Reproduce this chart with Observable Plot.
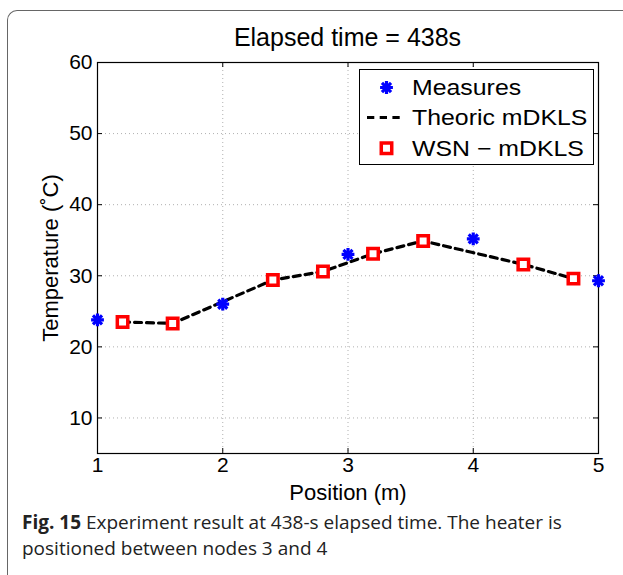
<!DOCTYPE html>
<html>
<head>
<meta charset="utf-8">
<script src="https://cdn.jsdelivr.net/npm/d3@7"></script>
<script src="https://cdn.jsdelivr.net/npm/@observablehq/plot@0.6"></script>
<style>
  html, body { margin: 0; padding: 0; background: white; }
  #wrap { position: relative; width: 623px; height: 575px; overflow: hidden; background: white; }
  #frame { position: absolute; left: 7px; top: 10px; width: 700px; height: 700px;
           border-left: 1.5px solid #666; border-top: 1.5px solid #666; border-top-left-radius: 10px; }
  #title { position: absolute; left: 97px; width: 501px; top: 22px; text-align: center;
           font-family: "Liberation Sans", Arial, sans-serif; font-size: 25px; line-height: 30px; color: #000; }
  #chart { position: absolute; left: 0; top: 0; }
  #caption { position: absolute; left: 22px; top: 509px; width: 590px;
             font-family: "Open Sans", Lato, sans-serif; font-size: 19px; line-height: 26px; color: #222; }
  #caption b { font-weight: bold; }
</style>
</head>
<body>
<div id="wrap">
  <div id="frame"></div>
  <div id="chart"></div>
  <div id="title">Elapsed time = 438s</div>
  <div id="caption"><b>Fig. 15</b> Experiment result at 438-s elapsed time. The heater is<br>positioned between nodes 3 and 4</div>
</div>
<script>
// ---- data ----
const xTicks = [1, 2, 3, 4, 5];
const yTicks = [10, 20, 30, 40, 50, 60];
const measurePos = [1, 2, 3, 4, 5];
const measureTemp = [23.8, 26.0, 33.0, 35.2, 29.3];
const theoryPos = [1.2, 1.6, 2.4, 2.8, 3.2, 3.6, 4.4, 4.8];
const theoryTemp = [23.5, 23.3, 29.4, 30.6, 33.1, 34.9, 31.6, 29.6];
const wsnPos = [1.2, 1.6, 2.4, 2.8, 3.2, 3.6, 4.4, 4.8];
const wsnTemp = [23.5, 23.3, 29.4, 30.6, 33.1, 34.9, 31.6, 29.6];
const legendLabels = ["Measures", "Theoric mDKLS", "WSN \u2212 mDKLS"];

const measures = measurePos.map((x, i) => ({x, y: measureTemp[i]}));
const theory = theoryPos.map((x, i) => ({x, y: theoryTemp[i]}));
const wsn = wsnPos.map((x, i) => ({x, y: wsnTemp[i]}));

const W = 623, H = 506, mT = 62, mB = 53, mL = 97, mR = 25;
const PH = H - mT - mB, PW = W - mL - mR;
const tk = 5;

const chart = Plot.plot({
  width: W, height: H,
  marginTop: mT, marginBottom: mB, marginLeft: mL, marginRight: mR,
  style: {fontFamily: "'Liberation Sans', Arial, sans-serif", fontSize: "21px", background: "transparent", color: "#000"},
  x: {domain: [1, 5]},
  y: {domain: [5, 60]},
  marks: [
    Plot.gridX({ticks: xTicks, stroke: "#b0b0b0", strokeOpacity: 1, strokeDasharray: "1,3"}),
    Plot.gridY({ticks: yTicks, stroke: "#b0b0b0", strokeOpacity: 1, strokeDasharray: "1,3"}),
    Plot.tickX(xTicks, {x: d => d, insetTop: PH - tk, stroke: "black"}),
    Plot.tickX(xTicks, {x: d => d, insetBottom: PH - tk, stroke: "black"}),
    Plot.tickY(yTicks, {y: d => d, insetRight: PW - tk, stroke: "black"}),
    Plot.tickY(yTicks, {y: d => d, insetLeft: PW - tk, stroke: "black"}),
    Plot.frame({stroke: "black", strokeWidth: 1.2}),
    Plot.axisX({ticks: xTicks, tickSize: 0, tickPadding: 4, label: null, tickFormat: d => String(d)}),
    Plot.axisY({ticks: yTicks, tickSize: 0, tickPadding: 5, label: null, tickFormat: d => String(d)}),
    Plot.text(["Temperature (\u02DAC)"], {frameAnchor: "left", rotate: -90, dx: -47, fontSize: 22, lineAnchor: "middle", textAnchor: "middle"}),
    Plot.text(["Position (m)"], {frameAnchor: "bottom", dy: 39, fontSize: 22, lineAnchor: "middle", textAnchor: "middle"}),
    Plot.line(theory, {x: "x", y: "y", stroke: "black", strokeWidth: 3.2, strokeDasharray: "7,5"}),
    Plot.dot(wsn, {x: "x", y: "y", symbol: "square", r: 5.9, stroke: "#ff0000", strokeWidth: 3.5, fill: "white"}),
    Plot.dot(measures, {x: "x", y: "y", symbol: "plus", r: 4.2, stroke: "#0000ff", strokeWidth: 3.2}),
    Plot.dot(measures, {x: "x", y: "y", symbol: "times", r: 4.2, stroke: "#0000ff", strokeWidth: 3.2})
  ]
});

// legend inside plot area (top-right)
const svg = d3.select(chart);
const lg = svg.append("g").attr("font-family", "'Liberation Sans', Arial, sans-serif").attr("font-size", 22).attr("text-anchor", "start");
lg.append("rect").attr("x", 359.5).attr("y", 69.5).attr("width", 234).attr("height", 95)
  .attr("fill", "white").attr("stroke", "black").attr("stroke-width", 1);
const rowY = [87.5, 117.5, 148.3];
const mx = 386.5;
const ast = d3.symbol().type(d3.symbolPlus).size(Math.PI * 4.2 * 4.2)();
const astT = d3.symbol().type(d3.symbolTimes).size(Math.PI * 4.2 * 4.2)();
lg.append("path").attr("d", ast).attr("transform", `translate(${mx},${rowY[0]})`).attr("stroke", "#0000ff").attr("stroke-width", 3.2).attr("fill", "none");
lg.append("path").attr("d", astT).attr("transform", `translate(${mx},${rowY[0]})`).attr("stroke", "#0000ff").attr("stroke-width", 3.2).attr("fill", "none");
lg.append("line").attr("x1", 367).attr("x2", 405).attr("y1", rowY[1]).attr("y2", rowY[1])
  .attr("stroke", "black").attr("stroke-width", 3.2).attr("stroke-dasharray", "7.3,5.4");
const sq = d3.symbol().type(d3.symbolSquare).size(Math.PI * 5.9 * 5.9)();
lg.append("path").attr("d", sq).attr("transform", `translate(${mx},${rowY[2]})`).attr("stroke", "#ff0000").attr("stroke-width", 3.5).attr("fill", "white");
legendLabels.forEach((t, i) => {
  lg.append("g").attr("transform", `translate(412,${rowY[i]}) scale(1.13,1)`)
    .append("text").attr("x", 0).attr("y", 0).attr("dy", "0.35em").attr("text-anchor", "start").attr("fill", "black").text(t);
});

document.getElementById("chart").appendChild(chart);
</script>
</body>
</html>
